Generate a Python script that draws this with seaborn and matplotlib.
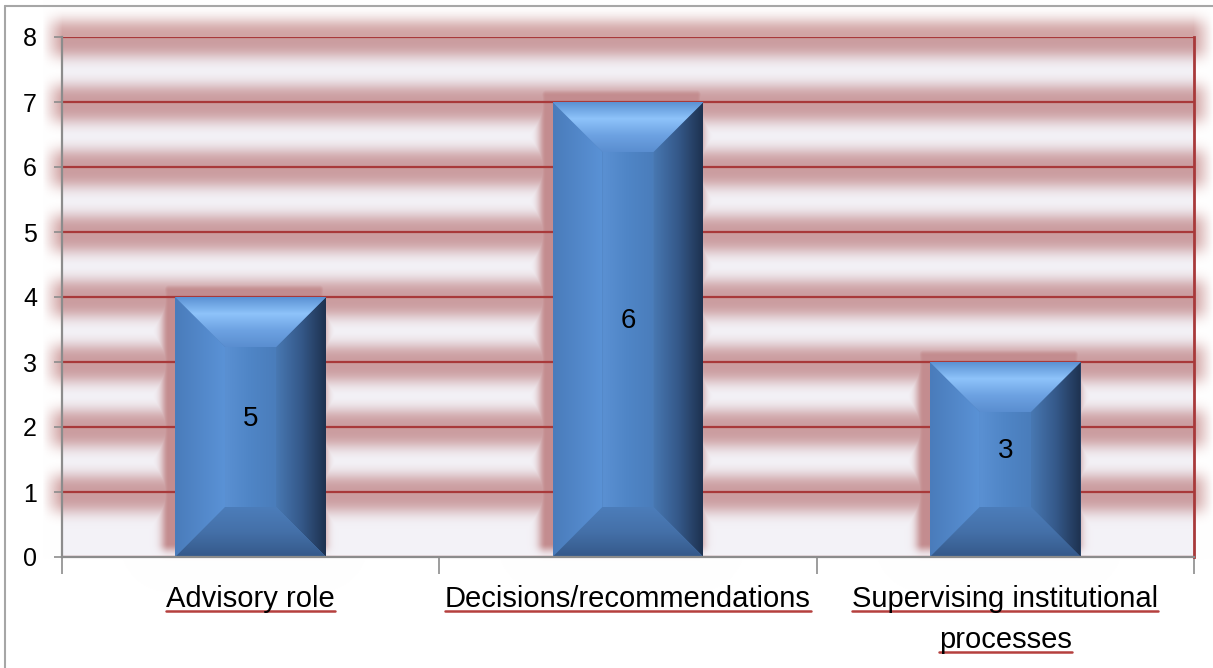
import numpy as np
import matplotlib
matplotlib.use("Agg")
import matplotlib.pyplot as plt
import seaborn as sns
from matplotlib.patches import Polygon
from matplotlib.lines import Line2D
from matplotlib.colors import to_rgb

# ---- data ----
categories = ["Advisory role", "Decisions/recommendations", "Supervising institutional\nprocesses"]
bar_heights = [4, 7, 3]
bar_labels = ["5", "6", "3"]
y_ticks = [0, 1, 2, 3, 4, 5, 6, 7, 8]

sns.set_theme(style="white")
plt.rcParams["font.family"] = ["Liberation Sans", "DejaVu Sans"]

W, H, DPI = 1213, 668, 100
XFS, YFS, BFS = 21, 18, 20
fig = plt.figure(figsize=(W / DPI, H / DPI), dpi=DPI, facecolor="white")
L, R, T, B = 62, 1194, 37, 557
ax = fig.add_axes([L / W, 1 - B / H, (R - L) / W, (B - T) / H])
ax.set_facecolor("none")
ax.set_zorder(2)

sns.barplot(x=categories, y=bar_heights, color="#4F81BD", width=0.4, ax=ax,
            saturation=1, zorder=3, linewidth=0)
ax.set_xlim(-0.5, 2.5)
ax.set_ylim(0, 8)
ax.set_xlabel("")
ax.set_ylabel("")

# y axis / grid
ax.set_yticks(y_ticks)
ax.set_yticklabels([str(v) for v in y_ticks])
ax.yaxis.grid(True, color="#A8393A", lw=1.6, zorder=1)
ax.set_axisbelow(True)
ax.tick_params(axis="y", which="major", left=True, length=6, width=1.2,
               color="#8C8C8C", pad=12, labelsize=YFS, labelcolor="black")

# x axis: boundaries as major ticks, labels as minor ticks
ax.set_xticks([-0.5, 0.5, 1.5, 2.5])
ax.set_xticklabels([])
ax.set_xticks([0, 1, 2], minor=True)
ax.set_xticklabels(categories, minor=True)
ax.tick_params(axis="x", which="major", bottom=True, length=12, width=1.2, color="#8C8C8C")
ax.tick_params(axis="x", which="minor", bottom=False, length=0, pad=20, labelsize=XFS,
               labelcolor="black")
for t in ax.get_xticklabels(minor=True):
    t.set_linespacing(1.62)
    t.set_va("top")

for s in ["left", "bottom"]:
    ax.spines[s].set_color("#8C8C8C")
    ax.spines[s].set_linewidth(1.6)
    ax.spines[s].set_zorder(5)
ax.spines["top"].set_visible(False)
ax.spines["right"].set_color("#A8393A")
ax.spines["right"].set_linewidth(2.0)

fig.canvas.draw()
renderer = fig.canvas.get_renderer()

# ---- background shadow bands (figure pixel image) ----
yy, xx = np.mgrid[0:H, 0:W].astype(float)  # row 0 = top
alpha = np.zeros((H, W))
base = np.zeros((H, W, 3)) + 1.0
inside = (xx >= L) & (xx <= R) & (yy >= T) & (yy <= B)
base[inside] = np.array([0.955, 0.95, 0.97])
hramp = np.clip((xx - 42) / 20.0, 0, 1) * np.clip((1213 - xx) / 20.0, 0, 1)
for v in y_ticks[1:]:
    _, py = ax.transData.transform((0, v))
    yc = H - py
    d = yy - (yc + 1)
    alpha = np.maximum(alpha, 0.47 * np.exp(-(np.abs(d) / 20.0) ** 3) * hramp)
# glow behind bars (offset up-left)
for p in ax.patches:
    bb = p.get_window_extent(renderer)
    x0, x1 = bb.x0 - 7, bb.x1 - 7
    ytop, ybot = H - bb.y1 - 7, H - bb.y0 - 14
    dx = np.maximum(np.maximum(x0 - xx, xx - x1), 0)
    dy = np.maximum(np.maximum(ytop - yy, yy - ybot), 0)
    dist = np.sqrt(dx ** 2 + dy ** 2)
    g = 0.56 * np.exp(-(dist / 8.0) ** 2)
    alpha = np.maximum(alpha, g)
shadow_c = np.array([0.62, 0.24, 0.24])
img = base * (1 - alpha[..., None]) + shadow_c * alpha[..., None]
img = np.clip(img, 0, 1)
fig.figimage(img, xo=0, yo=0, origin="upper", zorder=-5)

# ---- bevel decoration on bars ----
inv = ax.transData.inverted()


def grad_img(colors, n=64, horizontal=True):
    cols = np.array([to_rgb(c) for c in colors])
    pos = np.linspace(0, 1, len(cols))
    t = np.linspace(0, 1, n)
    arr = np.stack([np.interp(t, pos, cols[:, k]) for k in range(3)], axis=-1)
    if horizontal:
        return arr[None, :, :]
    return arr[:, None, :]


for i, p in enumerate(ax.patches):
    bb = p.get_window_extent(renderer)
    x0, x1, y0, y1 = bb.x0, bb.x1, bb.y0, bb.y1
    b = min(50, (x1 - x0) / 3.0, (y1 - y0) / 2.0)
    TL, TR, BR, BL = (x0, y1), (x1, y1), (x1, y0), (x0, y0)
    TLi, TRi, BRi, BLi = (x0 + b, y1 - b), (x1 - b, y1 - b), (x1 - b, y0 + b), (x0 + b, y0 + b)

    def d(pt):
        return inv.transform(pt)

    regions = [
        ([TL, TLi, BLi, BL], (x0, x0 + b, y0, y1), ["#4A7CBB", "#5A92D6"], True),
        ([TLi, TRi, BRi, BLi], (x0 + b, x1 - b, y0 + b, y1 - b), ["#5A90D2", "#4F85C6", "#4A7DBB"], True),
        ([TR, TRi, BRi, BR], (x1 - b, x1, y0, y1), ["#4878B2", "#35598A", "#1E3250"], True),
        ([TL, TR, TRi, TLi], (x0, x1, y1 - b, y1), ["#5C92D4", "#8EC3FA", "#6DA2E2", "#5A8ED0"], False),
        ([BL, BR, BRi, BLi], (x0, x1, y0, y0 + b), ["#4C7DBA", "#4470A8", "#35598A"], False),
    ]
    for pts, ext, cols, horiz in regions:
        dpts = [d(pt) for pt in pts]
        poly = Polygon(dpts, closed=True, facecolor="none", edgecolor="none",
                       transform=ax.transData)
        ax.add_patch(poly)
        e0 = d((ext[0], ext[2]))
        e1 = d((ext[1], ext[3]))
        im = ax.imshow(grad_img(cols, horizontal=horiz), extent=(e0[0], e1[0], e0[1], e1[1]),
                       aspect="auto", origin="upper", zorder=4, interpolation="bilinear")
        im.set_clip_path(poly)
    ax.text(p.get_x() + p.get_width() / 2, p.get_height() / 2 + 0.13, bar_labels[i],
            ha="center", va="center", fontsize=BFS, color="black", zorder=6)

ax.set_xlim(-0.5, 2.5)
ax.set_ylim(0, 8)

# ---- underline category labels ----
fig.canvas.draw()
for t in ax.get_xticklabels(minor=True):
    bb = t.get_window_extent(renderer)
    fp = t.get_fontproperties()
    _, lp_h, lp_d = renderer.get_text_width_height_descent("lp", fp, ismath=False)
    lines = t.get_text().split("\n")
    n = len(lines)
    cx = (bb.x0 + bb.x1) / 2
    first_base = bb.y1 - (lp_h - lp_d)
    last_base = bb.y0 + lp_d
    for k, ln in enumerate(lines):
        wk, _, _ = renderer.get_text_width_height_descent(ln, fp, ismath=False)
        base_y = first_base if n == 1 else first_base + (last_base - first_base) * k / (n - 1)
        yu = base_y - 4
        fig.add_artist(Line2D([(cx - wk / 2) / W, (cx + wk / 2) / W], [yu / H, yu / H],
                              transform=fig.transFigure, color="#B5403E", lw=1.8))

# outer border
fig.add_artist(Line2D([5 / W, 5 / W], [0, 1 - 6 / H], transform=fig.transFigure,
                      color="#A6A6A6", lw=1.5))
fig.add_artist(Line2D([5 / W, 1], [1 - 6 / H, 1 - 6 / H], transform=fig.transFigure,
                      color="#A6A6A6", lw=1.5))

fig.savefig("out.png", dpi=DPI, facecolor="white")
